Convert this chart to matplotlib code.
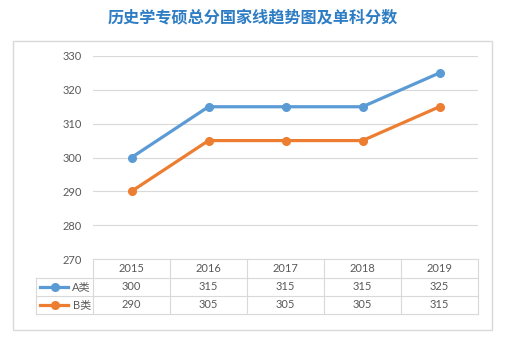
import matplotlib.pyplot as plt
from matplotlib.lines import Line2D
from matplotlib.patches import Rectangle

plt.rcParams['font.family'] = ['Lato', 'Noto Sans CJK SC', 'DejaVu Sans']

# 数据
years = ['2015', '2016', '2017', '2018', '2019']
score_a = [300, 315, 315, 315, 325]
score_b = [290, 305, 305, 305, 315]
series_names = ['A类', 'B类']
yticks = [270, 280, 290, 300, 310, 320, 330]

blue = '#5b9bd5'
orange = '#ed7d31'
grid_c = '#d9d9d9'
text_c = '#595959'

W, H = 506, 340
fig = plt.figure(figsize=(W / 100, H / 100), dpi=100)


def fx(x):
    return x / W


def fy(y):
    return 1 - y / H


# 外框
fig.patches.append(Rectangle((fx(13), fy(330)), fx(492) - fx(13), fy(41) - fy(330),
                             transform=fig.transFigure, fill=False,
                             edgecolor=grid_c, lw=1))

fig.text(fx(253), fy(17), '历史学专硕总分国家线趋势图及单科分数', ha='center', va='center',
         fontsize=11.6, color='#2e7dc4', family=['Noto Sans CJK SC'], fontweight='bold')

left, right, top, bottom = 93, 478, 56, 259
ax = fig.add_axes([fx(left), fy(bottom), fx(right) - fx(left), fy(top) - fy(bottom)])
x = range(len(years))
ax.plot(x, score_a, color=blue, lw=2.3, marker='o', ms=5.5, zorder=3)
ax.plot(x, score_b, color=orange, lw=2.3, marker='o', ms=5.5, zorder=3)
ax.set_xlim(-0.5, len(years) - 0.5)
ax.set_ylim(270, 330)
ax.set_yticks(yticks)
ax.set_xticks([])
ax.grid(axis='y', color=grid_c, lw=0.8)
ax.set_axisbelow(True)
ax.tick_params(axis='y', length=0, pad=8, labelsize=8, labelcolor=text_c)
for s in ax.spines.values():
    s.set_visible(False)

# 数据表
col_w = (right - left) / len(years)
row_y = [259, 278, 296, 314]
leg_left = 36


def hline(x0, x1, y):
    fig.add_artist(Line2D([fx(x0), fx(x1)], [fy(y), fy(y)], transform=fig.transFigure,
                          color=grid_c, lw=0.8))


def vline(x, y0, y1):
    fig.add_artist(Line2D([fx(x), fx(x)], [fy(y0), fy(y1)], transform=fig.transFigure,
                          color=grid_c, lw=0.8))


hline(left, right, row_y[0])
for y in row_y[1:]:
    hline(leg_left, right, y)
vline(leg_left, row_y[1], row_y[3])
for i in range(len(years) + 1):
    vline(left + i * col_w, row_y[0], row_y[3])

rows = [years, [str(v) for v in score_a], [str(v) for v in score_b]]
for r, vals in enumerate(rows):
    yc = (row_y[r] + row_y[r + 1]) / 2
    for i, v in enumerate(vals):
        fig.text(fx(left + (i + 0.5) * col_w), fy(yc), v, ha='center', va='center',
                 fontsize=8, color=text_c)

for r, (name, c) in enumerate(zip(series_names, [blue, orange])):
    yc = (row_y[r + 1] + row_y[r + 2]) / 2
    fig.add_artist(Line2D([fx(40), fx(68)], [fy(yc), fy(yc)], transform=fig.transFigure,
                          color=c, lw=2.3))
    fig.add_artist(Line2D([fx(55)], [fy(yc)], transform=fig.transFigure, color=c,
                          marker='o', ms=5.5))
    fig.text(fx(91), fy(yc), name, ha='right', va='center', fontsize=8, color=text_c)

fig.savefig('out.png', dpi=100)
